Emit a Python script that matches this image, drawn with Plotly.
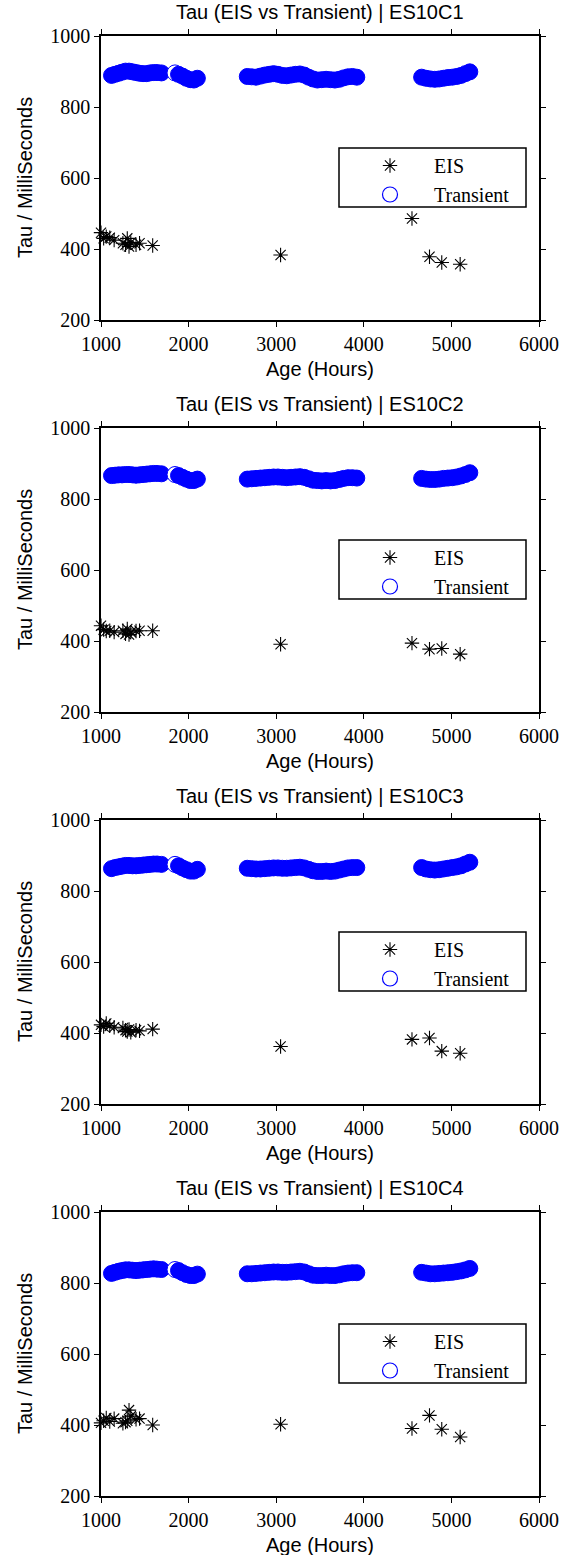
import plotly.graph_objects as go

# ---------------- data ----------------
panel_names = ["ES10C1", "ES10C2", "ES10C3", "ES10C4"]
age_ticks = [1000, 2000, 3000, 4000, 5000, 6000]
tau_ticks = [200, 400, 600, 800, 1000]

eis_hours = [1000, 1030, 1060, 1100, 1150, 1250, 1280, 1300, 1320, 1340, 1400, 1440, 1590,
             3050, 4550, 4750, 4890, 5100]
eis_c1 = [446, 430, 435, 432, 425, 416, 412, 430, 407, 418, 412, 416, 410, 383, 486, 378, 362, 357]
eis_c2 = [443, 432, 428, 429, 425, 429, 420, 434, 418, 425, 428, 429, 429, 391, 394, 377, 379, 363]
eis_c3 = [423, 418, 427, 420, 416, 414, 408, 404, 410, 402, 408, 406, 411, 362, 382, 386, 349, 343]
eis_c4 = [406, 412, 420, 410, 418, 405, 408, 412, 442, 425, 416, 418, 400, 402, 390, 427, 388, 366]

trans_hours = [1120, 1160, 1200, 1240, 1280, 1320, 1360, 1400, 1440, 1480, 1520, 1560, 1600, 1640, 1690,
               1845,
               1885, 1930, 1975, 2020, 2060, 2100,
               2670, 2720, 2770, 2820, 2870, 2920, 2970, 3020, 3070, 3120, 3170, 3220, 3270,
               3320, 3370, 3420, 3470, 3520, 3570, 3620, 3670, 3720, 3770, 3820, 3870, 3920,
               4660, 4710, 4760, 4810, 4860, 4910, 4960, 5010, 5060, 5110, 5160, 5210]
trans_c1 = [889, 892, 895, 898, 901, 901, 899, 897, 895, 894, 894, 896, 897, 897, 896,
            896,
            892, 887, 881, 877, 876, 881,
            886, 885, 884, 887, 890, 892, 894, 892, 889, 888, 890, 892, 893,
            890, 884, 879, 876, 877, 878, 877, 876, 878, 882, 885, 886, 884,
            884, 881, 879, 878, 879, 881, 883, 884, 886, 889, 894, 899]
trans_c2 = [866, 867, 868, 868, 869, 869, 868, 867, 868, 869, 870, 871, 872, 872, 871,
            869,
            866, 861, 856, 852, 852, 856,
            856, 857, 858, 859, 860, 861, 862, 862, 861, 860, 861, 862, 863,
            861, 857, 853, 852, 851, 852, 851, 852, 855, 858, 860, 860, 859,
            858, 856, 855, 855, 856, 858, 859, 860, 862, 865, 869, 874]
trans_c3 = [863, 866, 868, 870, 872, 872, 871, 871, 872, 873, 874, 875, 876, 876, 875,
            875,
            871, 865, 860, 856, 856, 861,
            864, 863, 862, 862, 863, 864, 865, 865, 864, 864, 865, 866, 867,
            865, 861, 857, 855, 855, 856, 855, 856, 859, 862, 865, 866, 866,
            866, 862, 860, 859, 860, 862, 864, 866, 868, 871, 876, 881]
trans_c4 = [827, 830, 833, 835, 837, 837, 836, 835, 836, 837, 838, 839, 840, 839, 838,
            838,
            835, 829, 824, 821, 821, 825,
            826, 826, 827, 828, 829, 830, 831, 831, 830, 830, 831, 832, 833,
            831, 826, 822, 821, 821, 822, 821, 821, 823, 826, 828, 829, 829,
            830, 828, 826, 826, 827, 828, 829, 830, 832, 834, 837, 841]
hollow_hour = 1845

eis_all = [eis_c1, eis_c2, eis_c3, eis_c4]
trans_all = [trans_c1, trans_c2, trans_c3, trans_c4]

# ---------------- layout geometry ----------------
W, H = 571, 1555
PL, PR = 101, 539
TOP0, STEP, PH = 36, 392, 284
SERIF = "Liberation Serif, Times New Roman, serif"
SANS = "Liberation Sans, Arial, sans-serif"

def py(px):
    return 1 - px / H

def pxx(px):
    return px / W

fig = go.Figure()
annotations = []
shapes = []
xmid = pxx((PL + PR) / 2)

for i, name in enumerate(panel_names):
    top = TOP0 + STEP * i
    bot = top + PH
    sfx = "" if i == 0 else str(i + 1)
    leg = "legend" + sfx
    xa, ya = "x" + sfx, "y" + sfx

    fig.add_trace(go.Scatter(
        x=eis_hours, y=eis_all[i], mode="markers", name="EIS",
        xaxis=xa, yaxis=ya, legend=leg, cliponaxis=False,
        marker=dict(symbol="asterisk-open", size=12, color="black",
                    line=dict(color="black", width=1.1)),
    ))
    fills = ["white" if h == hollow_hour else "blue" for h in trans_hours]
    fig.add_trace(go.Scatter(
        x=trans_hours, y=trans_all[i], mode="markers", name="Transient",
        xaxis=xa, yaxis=ya, showlegend=False,
        marker=dict(symbol="circle", size=16, color=fills,
                    line=dict(color="blue", width=1)),
    ))
    fig.add_trace(go.Scatter(
        x=[None], y=[None], mode="markers", name="Transient",
        xaxis=xa, yaxis=ya, legend=leg,
        marker=dict(symbol="circle-open", size=15, color="blue",
                    line=dict(color="blue", width=1.2)),
    ))

    axcommon = dict(showline=True, linecolor="black", linewidth=1.5, mirror="ticks",
                    ticks="outside", ticklen=5, tickwidth=1.3, tickcolor="black",
                    showgrid=False, zeroline=False, automargin=False,
                    tickfont=dict(family=SERIF, size=20, color="black"))
    fig.update_layout(**{
        "xaxis" + sfx: dict(domain=[pxx(PL), pxx(PR)], anchor=ya, range=[1000, 6000],
                            tickvals=age_ticks, **axcommon),
        "yaxis" + sfx: dict(domain=[py(bot), py(top)], anchor=xa, range=[200, 1000],
                            tickvals=tau_ticks, **axcommon),
        leg: dict(x=pxx(346), y=py(top + 110), xanchor="left", yanchor="top",
                  bgcolor="rgba(0,0,0,0)", borderwidth=0, itemwidth=78,
                  font=dict(family=SERIF, size=20, color="black"),
                  tracegroupgap=0),
    })

    shapes.append(dict(type="rect", xref="paper", yref="paper",
                       x0=pxx(339), x1=pxx(526), y0=py(top + 171), y1=py(top + 112),
                       line=dict(color="black", width=1.5), fillcolor="rgba(0,0,0,0)"))

    annotations.append(dict(text=f"Tau (EIS vs Transient) | {name}", x=xmid, y=py(top - 24),
                            xref="paper", yref="paper", showarrow=False,
                            xanchor="center", yanchor="middle",
                            font=dict(family=SANS, size=20, color="black")))
    annotations.append(dict(text="Age (Hours)", x=xmid, y=py(bot + 49),
                            xref="paper", yref="paper", showarrow=False,
                            xanchor="center", yanchor="middle",
                            font=dict(family=SANS, size=20, color="black")))
    annotations.append(dict(text="Tau / MilliSeconds", x=pxx(25), y=py((top + bot) / 2),
                            xref="paper", yref="paper", showarrow=False, textangle=-90,
                            xanchor="center", yanchor="middle",
                            font=dict(family=SANS, size=20, color="black")))

fig.update_layout(width=W, height=H,
                  margin=dict(l=0, r=0, t=0, b=0, pad=0, autoexpand=False),
                  paper_bgcolor="white", plot_bgcolor="white",
                  annotations=annotations, shapes=shapes)

fig.write_html("out.html")
